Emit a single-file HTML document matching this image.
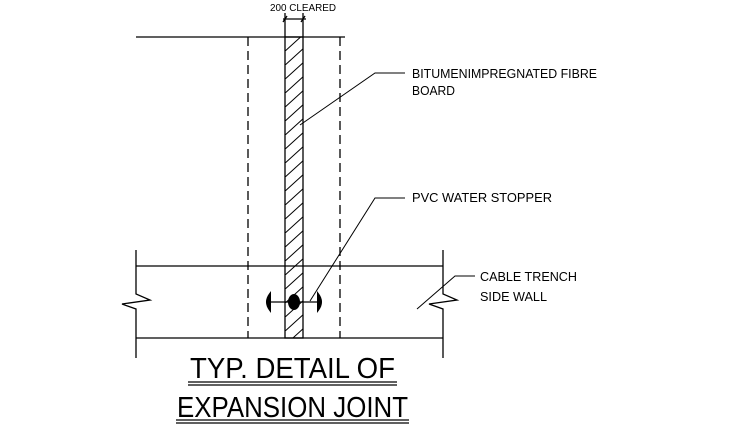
<!DOCTYPE html>
<html><head><meta charset="utf-8"><style>html,body{margin:0;padding:0;background:#fff}svg{display:block}</style></head>
<body>
<svg width="735" height="429" viewBox="0 0 735 429" xmlns="http://www.w3.org/2000/svg" font-family="Liberation Sans, sans-serif">
<defs>
<pattern id="h" patternUnits="userSpaceOnUse" x="285" y="37" width="18" height="14">
<path d="M-2,16 L20,-4 M-2,30 L20,10" stroke="#000" stroke-width="1"/>
</pattern>
</defs>
<g stroke="#000" stroke-width="1.3" fill="none">
<line x1="136" y1="37" x2="345" y2="37"/>
<rect x="285" y="37" width="18" height="301" fill="url(#h)"/>
<line x1="285" y1="13" x2="285" y2="37"/>
<line x1="303" y1="13" x2="303" y2="37"/>
<line x1="283" y1="19" x2="306" y2="19"/>
<line x1="283" y1="22" x2="287" y2="16"/>
<line x1="301" y1="22" x2="305" y2="16"/>
<line x1="248" y1="37" x2="248" y2="338" stroke-dasharray="9,5"/>
<line x1="340" y1="37" x2="340" y2="338" stroke-dasharray="9,5"/>
<line x1="136" y1="266" x2="443" y2="266"/>
<line x1="136" y1="338" x2="443" y2="338"/>
<polyline points="136,250 136,294 150,300 122,304 136,309 136,358"/>
<polyline points="443,250 443,294 457,300 429,304 443,309 443,358"/>
<line x1="268" y1="302" x2="320" y2="302"/>
<polyline points="300,125 375,73 405,73" stroke-width="1"/>
<polyline points="310,301 375,198 405,198" stroke-width="1"/>
<polyline points="417,309 455,276 475,276" stroke-width="1"/>
<line x1="188" y1="382" x2="397" y2="382"/>
<line x1="188" y1="385" x2="397" y2="385"/>
<line x1="176" y1="420" x2="409" y2="420"/>
<line x1="176" y1="423" x2="409" y2="423"/>
</g>
<ellipse cx="294" cy="302" rx="6" ry="8" fill="#000"/>
<path d="M270,294 Q264,302 270,310 Z" fill="#000" stroke="#000" stroke-width="2"/>
<path d="M318,294 Q324,302 318,310 Z" fill="#000" stroke="#000" stroke-width="2"/>
<g font-size="12.5" fill="#000">
<text x="270" y="11" font-size="10" textLength="66" lengthAdjust="spacingAndGlyphs">200 CLEARED</text>
<text x="412" y="78" textLength="185" lengthAdjust="spacingAndGlyphs">BITUMENIMPREGNATED FIBRE</text>
<text x="412" y="95" textLength="43" lengthAdjust="spacingAndGlyphs">BOARD</text>
<text x="412" y="202" textLength="140" lengthAdjust="spacingAndGlyphs">PVC WATER STOPPER</text>
<text x="480" y="281" textLength="97" lengthAdjust="spacingAndGlyphs">CABLE TRENCH</text>
<text x="480" y="301" textLength="67" lengthAdjust="spacingAndGlyphs">SIDE WALL</text>
<text x="190" y="378" font-size="29" textLength="205" lengthAdjust="spacingAndGlyphs">TYP. DETAIL OF</text>
<text x="177" y="417" font-size="29" textLength="231" lengthAdjust="spacingAndGlyphs">EXPANSION JOINT</text>
</g>
</svg>
</body></html>
